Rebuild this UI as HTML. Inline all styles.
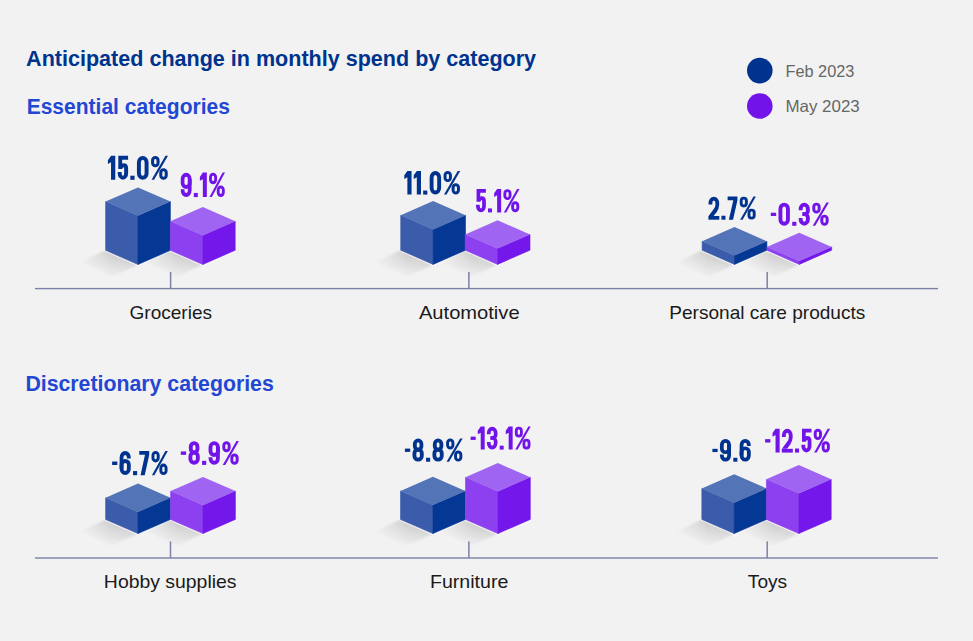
<!DOCTYPE html>
<html><head><meta charset="utf-8"><title>Anticipated change in monthly spend by category</title>
<style>
html,body{margin:0;padding:0;background:#f2f2f2;}
svg{display:block;font-family:"Liberation Sans",sans-serif;}
</style></head>
<body>
<svg width="973" height="641" viewBox="0 0 973 641">
<defs>
<linearGradient id="sh" gradientUnits="objectBoundingBox" x1="0.62" y1="0.2" x2="0.38" y2="0.8">
<stop offset="0" stop-color="#000" stop-opacity="0.14"/>
<stop offset="1" stop-color="#000" stop-opacity="0.03"/>
</linearGradient>
<linearGradient id="shm" gradientUnits="objectBoundingBox" x1="0" y1="0" x2="1" y2="0">
<stop offset="0" stop-color="#fff" stop-opacity="0.15"/>
<stop offset="0.55" stop-color="#fff" stop-opacity="1"/>
</linearGradient>
<mask id="mk" maskContentUnits="objectBoundingBox"><rect x="0" y="0" width="1" height="1" fill="url(#shm)"/></mask>
<filter id="bl" x="-30%" y="-30%" width="160%" height="160%"><feGaussianBlur stdDeviation="1.0"/></filter>
</defs>
<rect width="973" height="641" fill="#f2f2f2"/>
<rect x="35" y="287.90" width="903" height="1.4" fill="#7c81a5"/>
<rect x="169.85" y="272.10" width="1.5" height="16.50" fill="#7c81a5"/>
<rect x="468.15" y="272.10" width="1.5" height="16.50" fill="#7c81a5"/>
<rect x="766.45" y="272.10" width="1.5" height="16.50" fill="#7c81a5"/>
<rect x="35" y="557.30" width="903" height="1.4" fill="#7c81a5"/>
<rect x="169.75" y="541.50" width="1.5" height="16.50" fill="#7c81a5"/>
<rect x="468.15" y="541.50" width="1.5" height="16.50" fill="#7c81a5"/>
<rect x="766.45" y="541.50" width="1.5" height="16.50" fill="#7c81a5"/>
<polygon points="105.60,250.30 138.00,264.50 112.50,276.50 80.10,262.30" fill="url(#sh)" mask="url(#mk)" filter="url(#bl)"/>
<polyline points="105.60,251.10 138.00,265.40 170.40,251.10" fill="none" stroke="#fff" stroke-width="1.2" stroke-opacity="0.7"/>
<polygon points="170.40,250.30 202.80,264.50 177.30,276.50 144.90,262.30" fill="url(#sh)" mask="url(#mk)" filter="url(#bl)"/>
<polyline points="170.40,251.10 202.80,265.40 235.20,251.10" fill="none" stroke="#fff" stroke-width="1.2" stroke-opacity="0.7"/>
<polygon points="400.70,250.20 433.10,264.40 407.60,276.40 375.20,262.20" fill="url(#sh)" mask="url(#mk)" filter="url(#bl)"/>
<polyline points="400.70,251.00 433.10,265.30 465.50,251.00" fill="none" stroke="#fff" stroke-width="1.2" stroke-opacity="0.7"/>
<polygon points="465.20,250.20 497.60,264.40 472.10,276.40 439.70,262.20" fill="url(#sh)" mask="url(#mk)" filter="url(#bl)"/>
<polyline points="465.20,251.00 497.60,265.30 530.00,251.00" fill="none" stroke="#fff" stroke-width="1.2" stroke-opacity="0.7"/>
<polygon points="702.10,250.20 734.50,264.40 709.00,276.40 676.60,262.20" fill="url(#sh)" mask="url(#mk)" filter="url(#bl)"/>
<polyline points="702.10,251.00 734.50,265.30 766.90,251.00" fill="none" stroke="#fff" stroke-width="1.2" stroke-opacity="0.7"/>
<polygon points="766.90,250.20 799.30,264.40 773.80,276.40 741.40,262.20" fill="url(#sh)" mask="url(#mk)" filter="url(#bl)"/>
<polyline points="766.90,251.00 799.30,265.30 831.70,251.00" fill="none" stroke="#fff" stroke-width="1.2" stroke-opacity="0.7"/>
<polygon points="105.60,519.40 138.00,533.60 112.50,545.60 80.10,531.40" fill="url(#sh)" mask="url(#mk)" filter="url(#bl)"/>
<polyline points="105.60,520.20 138.00,534.50 170.40,520.20" fill="none" stroke="#fff" stroke-width="1.2" stroke-opacity="0.7"/>
<polygon points="170.60,519.40 203.00,533.60 177.50,545.60 145.10,531.40" fill="url(#sh)" mask="url(#mk)" filter="url(#bl)"/>
<polyline points="170.60,520.20 203.00,534.50 235.40,520.20" fill="none" stroke="#fff" stroke-width="1.2" stroke-opacity="0.7"/>
<polygon points="400.50,519.40 432.90,533.60 407.40,545.60 375.00,531.40" fill="url(#sh)" mask="url(#mk)" filter="url(#bl)"/>
<polyline points="400.50,520.20 432.90,534.50 465.30,520.20" fill="none" stroke="#fff" stroke-width="1.2" stroke-opacity="0.7"/>
<polygon points="465.50,519.40 497.90,533.60 472.40,545.60 440.00,531.40" fill="url(#sh)" mask="url(#mk)" filter="url(#bl)"/>
<polyline points="465.50,520.20 497.90,534.50 530.30,520.20" fill="none" stroke="#fff" stroke-width="1.2" stroke-opacity="0.7"/>
<polygon points="701.80,519.40 734.20,533.60 708.70,545.60 676.30,531.40" fill="url(#sh)" mask="url(#mk)" filter="url(#bl)"/>
<polyline points="701.80,520.20 734.20,534.50 766.60,520.20" fill="none" stroke="#fff" stroke-width="1.2" stroke-opacity="0.7"/>
<polygon points="766.40,519.40 798.80,533.60 773.30,545.60 740.90,531.40" fill="url(#sh)" mask="url(#mk)" filter="url(#bl)"/>
<polyline points="766.40,520.20 798.80,534.50 831.20,520.20" fill="none" stroke="#fff" stroke-width="1.2" stroke-opacity="0.7"/>
<polygon points="105.60,201.60 138.00,215.80 138.00,264.50 105.60,250.30" fill="#3a5caa" stroke="#3a5caa" stroke-width="0.6" stroke-linejoin="round"/>
<polygon points="138.00,215.80 170.40,201.60 170.40,250.30 138.00,264.50" fill="#053794" stroke="#053794" stroke-width="0.6" stroke-linejoin="round"/>
<polygon points="138.00,187.40 170.40,201.60 138.00,215.80 105.60,201.60" fill="#5474b8"/>
<polygon points="170.40,221.20 202.80,235.40 202.80,264.50 170.40,250.30" fill="#8d40ef" stroke="#8d40ef" stroke-width="0.6" stroke-linejoin="round"/>
<polygon points="202.80,235.40 235.20,221.20 235.20,250.30 202.80,264.50" fill="#7417ea" stroke="#7417ea" stroke-width="0.6" stroke-linejoin="round"/>
<polygon points="202.80,207.00 235.20,221.20 202.80,235.40 170.40,221.20" fill="#a064f2"/>
<polygon points="400.70,215.20 433.10,229.40 433.10,264.40 400.70,250.20" fill="#3a5caa" stroke="#3a5caa" stroke-width="0.6" stroke-linejoin="round"/>
<polygon points="433.10,229.40 465.50,215.20 465.50,250.20 433.10,264.40" fill="#053794" stroke="#053794" stroke-width="0.6" stroke-linejoin="round"/>
<polygon points="433.10,201.00 465.50,215.20 433.10,229.40 400.70,215.20" fill="#5474b8"/>
<polygon points="465.20,234.40 497.60,248.60 497.60,264.40 465.20,250.20" fill="#8d40ef" stroke="#8d40ef" stroke-width="0.6" stroke-linejoin="round"/>
<polygon points="497.60,248.60 530.00,234.40 530.00,250.20 497.60,264.40" fill="#7417ea" stroke="#7417ea" stroke-width="0.6" stroke-linejoin="round"/>
<polygon points="497.60,220.20 530.00,234.40 497.60,248.60 465.20,234.40" fill="#a064f2"/>
<polygon points="702.10,241.30 734.50,255.50 734.50,264.40 702.10,250.20" fill="#3a5caa" stroke="#3a5caa" stroke-width="0.6" stroke-linejoin="round"/>
<polygon points="734.50,255.50 766.90,241.30 766.90,250.20 734.50,264.40" fill="#053794" stroke="#053794" stroke-width="0.6" stroke-linejoin="round"/>
<polygon points="734.50,227.10 766.90,241.30 734.50,255.50 702.10,241.30" fill="#5474b8"/>
<polygon points="766.90,246.90 799.30,261.10 799.30,264.40 766.90,250.20" fill="#8d40ef" stroke="#8d40ef" stroke-width="0.6" stroke-linejoin="round"/>
<polygon points="799.30,261.10 831.70,246.90 831.70,250.20 799.30,264.40" fill="#7417ea" stroke="#7417ea" stroke-width="0.6" stroke-linejoin="round"/>
<polygon points="799.30,232.70 831.70,246.90 799.30,261.10 766.90,246.90" fill="#a064f2"/>
<polygon points="105.60,497.80 138.00,512.00 138.00,533.60 105.60,519.40" fill="#3a5caa" stroke="#3a5caa" stroke-width="0.6" stroke-linejoin="round"/>
<polygon points="138.00,512.00 170.40,497.80 170.40,519.40 138.00,533.60" fill="#053794" stroke="#053794" stroke-width="0.6" stroke-linejoin="round"/>
<polygon points="138.00,483.60 170.40,497.80 138.00,512.00 105.60,497.80" fill="#5474b8"/>
<polygon points="170.60,491.10 203.00,505.30 203.00,533.60 170.60,519.40" fill="#8d40ef" stroke="#8d40ef" stroke-width="0.6" stroke-linejoin="round"/>
<polygon points="203.00,505.30 235.40,491.10 235.40,519.40 203.00,533.60" fill="#7417ea" stroke="#7417ea" stroke-width="0.6" stroke-linejoin="round"/>
<polygon points="203.00,476.90 235.40,491.10 203.00,505.30 170.60,491.10" fill="#a064f2"/>
<polygon points="400.50,490.90 432.90,505.10 432.90,533.60 400.50,519.40" fill="#3a5caa" stroke="#3a5caa" stroke-width="0.6" stroke-linejoin="round"/>
<polygon points="432.90,505.10 465.30,490.90 465.30,519.40 432.90,533.60" fill="#053794" stroke="#053794" stroke-width="0.6" stroke-linejoin="round"/>
<polygon points="432.90,476.70 465.30,490.90 432.90,505.10 400.50,490.90" fill="#5474b8"/>
<polygon points="465.50,477.30 497.90,491.50 497.90,533.60 465.50,519.40" fill="#8d40ef" stroke="#8d40ef" stroke-width="0.6" stroke-linejoin="round"/>
<polygon points="497.90,491.50 530.30,477.30 530.30,519.40 497.90,533.60" fill="#7417ea" stroke="#7417ea" stroke-width="0.6" stroke-linejoin="round"/>
<polygon points="497.90,463.10 530.30,477.30 497.90,491.50 465.50,477.30" fill="#a064f2"/>
<polygon points="701.80,488.50 734.20,502.70 734.20,533.60 701.80,519.40" fill="#3a5caa" stroke="#3a5caa" stroke-width="0.6" stroke-linejoin="round"/>
<polygon points="734.20,502.70 766.60,488.50 766.60,519.40 734.20,533.60" fill="#053794" stroke="#053794" stroke-width="0.6" stroke-linejoin="round"/>
<polygon points="734.20,474.30 766.60,488.50 734.20,502.70 701.80,488.50" fill="#5474b8"/>
<polygon points="766.40,479.30 798.80,493.50 798.80,533.60 766.40,519.40" fill="#8d40ef" stroke="#8d40ef" stroke-width="0.6" stroke-linejoin="round"/>
<polygon points="798.80,493.50 831.20,479.30 831.20,519.40 798.80,533.60" fill="#7417ea" stroke="#7417ea" stroke-width="0.6" stroke-linejoin="round"/>
<polygon points="798.80,465.10 831.20,479.30 798.80,493.50 766.40,479.30" fill="#a064f2"/>
<circle cx="759.8" cy="70.6" r="12.8" fill="#00338d"/>
<circle cx="759.8" cy="106.0" r="12.8" fill="#7213ea"/>
<g transform="translate(107.90 179.80) scale(1.0101 1.0000)"><path transform="translate(0.00 0)" d="M 3.1 -24 L 7.3 -24 L 7.3 0 L 3.1 0 L 3.1 -17.6 L 0 -15.9 L 0 -19.6 Z" fill="#00338d"/><path transform="translate(9.50 0)" d="M 0.8 -24 L 10.5 -24 L 10.5 -20.1 L 4.6 -20.1 L 4.6 -10.8 L 0.8 -10.8 Z" fill="#00338d"/><path transform="translate(9.50 0)" d="M 2.7 -11.6 C 3.6 -13.7 5 -14.6 6.4 -14.6 C 8.6 -14.6 8.55 -12.6 8.55 -10.6 L 8.55 -6.6 A 3.2 4.5 0 0 1 2.15 -6.6 L 2.15 -7.8" fill="none" stroke="#00338d" stroke-width="3.90"/><path transform="translate(22.20 0)" d="M 0 -4.1 L 4.2 -4.1 L 4.2 0 L 0 0 Z" fill="#00338d"/><path transform="translate(28.60 0)" d="M 2.1 -17.4 A 3.8 4.5 0 0 1 9.7 -17.4 L 9.7 -6.6 A 3.8 4.5 0 0 1 2.1 -6.6 Z" fill="none" stroke="#00338d" stroke-width="3.90"/><path transform="translate(42.60 0)" d="M 1.65 -19.6 A 2.7 2.75 0 0 1 7.05 -19.6 L 7.05 -16.9 A 2.7 2.75 0 0 1 1.65 -16.9 Z" fill="none" stroke="#00338d" stroke-width="3.00"/><path transform="translate(42.60 0)" d="M 9.75 -7.2 A 2.7 2.75 0 0 1 15.15 -7.2 L 15.15 -4.4 A 2.7 2.75 0 0 1 9.75 -4.4 Z" fill="none" stroke="#00338d" stroke-width="3.00"/><path transform="translate(42.60 0)" d="M 14.4 -24 L 16.9 -24 L 3.1 0 L 0.6 0 Z" fill="#00338d"/></g>
<g transform="translate(180.60 197.10) scale(0.9506 1.0208)"><path transform="translate(0.00 0)" d="M 2.1 -17.6 A 3.75 4.3 0 0 1 9.6 -17.6 L 9.6 -13.6 A 3.75 3.7 0 0 1 2.1 -13.6 Z" fill="none" stroke="#7213ea" stroke-width="3.90"/><path transform="translate(0.00 0)" d="M 9.6 -17.6 L 9.6 -6.6 A 3.75 4.5 0 0 1 2.1 -6.6 L 2.1 -7.6" fill="none" stroke="#7213ea" stroke-width="3.90"/><path transform="translate(13.90 0)" d="M 0 -4.1 L 4.2 -4.1 L 4.2 0 L 0 0 Z" fill="#7213ea"/><path transform="translate(20.30 0)" d="M 3.1 -24 L 7.3 -24 L 7.3 0 L 3.1 0 L 3.1 -17.6 L 0 -15.9 L 0 -19.6 Z" fill="#7213ea"/><path transform="translate(29.80 0)" d="M 1.65 -19.6 A 2.7 2.75 0 0 1 7.05 -19.6 L 7.05 -16.9 A 2.7 2.75 0 0 1 1.65 -16.9 Z" fill="none" stroke="#7213ea" stroke-width="3.00"/><path transform="translate(29.80 0)" d="M 9.75 -7.2 A 2.7 2.75 0 0 1 15.15 -7.2 L 15.15 -4.4 A 2.7 2.75 0 0 1 9.75 -4.4 Z" fill="none" stroke="#7213ea" stroke-width="3.00"/><path transform="translate(29.80 0)" d="M 14.4 -24 L 16.9 -24 L 3.1 0 L 0.6 0 Z" fill="#7213ea"/></g>
<g transform="translate(404.30 194.60) scale(0.9929 0.9875)"><path transform="translate(0.00 0)" d="M 3.1 -24 L 7.3 -24 L 7.3 0 L 3.1 0 L 3.1 -17.6 L 0 -15.9 L 0 -19.6 Z" fill="#00338d"/><path transform="translate(9.50 0)" d="M 3.1 -24 L 7.3 -24 L 7.3 0 L 3.1 0 L 3.1 -17.6 L 0 -15.9 L 0 -19.6 Z" fill="#00338d"/><path transform="translate(19.00 0)" d="M 0 -4.1 L 4.2 -4.1 L 4.2 0 L 0 0 Z" fill="#00338d"/><path transform="translate(25.40 0)" d="M 2.1 -17.4 A 3.8 4.5 0 0 1 9.7 -17.4 L 9.7 -6.6 A 3.8 4.5 0 0 1 2.1 -6.6 Z" fill="none" stroke="#00338d" stroke-width="3.90"/><path transform="translate(39.40 0)" d="M 1.65 -19.6 A 2.7 2.75 0 0 1 7.05 -19.6 L 7.05 -16.9 A 2.7 2.75 0 0 1 1.65 -16.9 Z" fill="none" stroke="#00338d" stroke-width="3.00"/><path transform="translate(39.40 0)" d="M 9.75 -7.2 A 2.7 2.75 0 0 1 15.15 -7.2 L 15.15 -4.4 A 2.7 2.75 0 0 1 9.75 -4.4 Z" fill="none" stroke="#00338d" stroke-width="3.00"/><path transform="translate(39.40 0)" d="M 14.4 -24 L 16.9 -24 L 3.1 0 L 0.6 0 Z" fill="#00338d"/></g>
<g transform="translate(475.80 212.40) scale(0.9604 0.9750)"><path transform="translate(0.00 0)" d="M 0.8 -24 L 10.5 -24 L 10.5 -20.1 L 4.6 -20.1 L 4.6 -10.8 L 0.8 -10.8 Z" fill="#7213ea"/><path transform="translate(0.00 0)" d="M 2.7 -11.6 C 3.6 -13.7 5 -14.6 6.4 -14.6 C 8.6 -14.6 8.55 -12.6 8.55 -10.6 L 8.55 -6.6 A 3.2 4.5 0 0 1 2.15 -6.6 L 2.15 -7.8" fill="none" stroke="#7213ea" stroke-width="3.90"/><path transform="translate(12.70 0)" d="M 0 -4.1 L 4.2 -4.1 L 4.2 0 L 0 0 Z" fill="#7213ea"/><path transform="translate(19.10 0)" d="M 3.1 -24 L 7.3 -24 L 7.3 0 L 3.1 0 L 3.1 -17.6 L 0 -15.9 L 0 -19.6 Z" fill="#7213ea"/><path transform="translate(28.60 0)" d="M 1.65 -19.6 A 2.7 2.75 0 0 1 7.05 -19.6 L 7.05 -16.9 A 2.7 2.75 0 0 1 1.65 -16.9 Z" fill="none" stroke="#7213ea" stroke-width="3.00"/><path transform="translate(28.60 0)" d="M 9.75 -7.2 A 2.7 2.75 0 0 1 15.15 -7.2 L 15.15 -4.4 A 2.7 2.75 0 0 1 9.75 -4.4 Z" fill="none" stroke="#7213ea" stroke-width="3.00"/><path transform="translate(28.60 0)" d="M 14.4 -24 L 16.9 -24 L 3.1 0 L 0.6 0 Z" fill="#7213ea"/></g>
<g transform="translate(708.40 219.70) scale(0.9654 0.9667)"><path transform="translate(0.00 0)" d="M 2.1 -15.6 L 2.1 -17.2 A 3.55 4.7 0 0 1 9.2 -17.2 L 9.2 -15.3 C 9.2 -12.8 8.4 -11.2 6.9 -9.3" fill="none" stroke="#00338d" stroke-width="3.90"/><path transform="translate(0.00 0)" d="M 0.15 -3.8 L 5.82 -11.36 L 9.18 -8.84 L 5.4 -3.8 Z" fill="#00338d"/><path transform="translate(0.00 0)" d="M 0 -3.8 L 11.3 -3.8 L 11.3 0 L 0 0 Z" fill="#00338d"/><path transform="translate(13.50 0)" d="M 0 -4.1 L 4.2 -4.1 L 4.2 0 L 0 0 Z" fill="#00338d"/><path transform="translate(19.90 0)" d="M 0 -24 L 10.2 -24 L 10.2 -20.0 L 5.6 0 L 1.3 0 L 5.9 -20.2 L 0 -20.2 Z" fill="#00338d"/><path transform="translate(32.30 0)" d="M 1.65 -19.6 A 2.7 2.75 0 0 1 7.05 -19.6 L 7.05 -16.9 A 2.7 2.75 0 0 1 1.65 -16.9 Z" fill="none" stroke="#00338d" stroke-width="3.00"/><path transform="translate(32.30 0)" d="M 9.75 -7.2 A 2.7 2.75 0 0 1 15.15 -7.2 L 15.15 -4.4 A 2.7 2.75 0 0 1 9.75 -4.4 Z" fill="none" stroke="#00338d" stroke-width="3.00"/><path transform="translate(32.30 0)" d="M 14.4 -24 L 16.9 -24 L 3.1 0 L 0.6 0 Z" fill="#00338d"/></g>
<g transform="translate(770.80 225.80) scale(0.9915 0.9708)"><path transform="translate(0.00 0)" d="M 0 -13.5 L 5.4 -13.5 L 5.4 -10.1 L 0 -10.1 Z" fill="#7213ea"/><path transform="translate(7.60 0)" d="M 2.1 -17.4 A 3.8 4.5 0 0 1 9.7 -17.4 L 9.7 -6.6 A 3.8 4.5 0 0 1 2.1 -6.6 Z" fill="none" stroke="#7213ea" stroke-width="3.90"/><path transform="translate(21.60 0)" d="M 0 -4.1 L 4.2 -4.1 L 4.2 0 L 0 0 Z" fill="#7213ea"/><path transform="translate(28.00 0)" d="M 2.1 -16.0 L 2.1 -17.2 A 3.65 4.7 0 0 1 9.4 -17.2 L 9.4 -15.6 A 3.65 3.5 0 0 1 5.75 -12.1 L 4.0 -12.1" fill="none" stroke="#7213ea" stroke-width="3.90"/><path transform="translate(28.00 0)" d="M 4.0 -12.1 L 5.75 -12.1 A 3.65 3.5 0 0 1 9.4 -8.6 L 9.4 -6.8 A 3.65 4.7 0 0 1 2.1 -6.8 L 2.1 -8.0" fill="none" stroke="#7213ea" stroke-width="3.90"/><path transform="translate(41.70 0)" d="M 1.65 -19.6 A 2.7 2.75 0 0 1 7.05 -19.6 L 7.05 -16.9 A 2.7 2.75 0 0 1 1.65 -16.9 Z" fill="none" stroke="#7213ea" stroke-width="3.00"/><path transform="translate(41.70 0)" d="M 9.75 -7.2 A 2.7 2.75 0 0 1 15.15 -7.2 L 15.15 -4.4 A 2.7 2.75 0 0 1 9.75 -4.4 Z" fill="none" stroke="#7213ea" stroke-width="3.00"/><path transform="translate(41.70 0)" d="M 14.4 -24 L 16.9 -24 L 3.1 0 L 0.6 0 Z" fill="#7213ea"/></g>
<g transform="translate(112.10 475.20) scale(0.9737 1.0125)"><path transform="translate(0.00 0)" d="M 0 -13.5 L 5.4 -13.5 L 5.4 -10.1 L 0 -10.1 Z" fill="#00338d"/><path transform="translate(7.60 0) rotate(180 5.850 -12)" d="M 2.1 -17.6 A 3.75 4.3 0 0 1 9.6 -17.6 L 9.6 -13.6 A 3.75 3.7 0 0 1 2.1 -13.6 Z" fill="none" stroke="#00338d" stroke-width="3.90"/><path transform="translate(7.60 0) rotate(180 5.850 -12)" d="M 9.6 -17.6 L 9.6 -6.6 A 3.75 4.5 0 0 1 2.1 -6.6 L 2.1 -7.6" fill="none" stroke="#00338d" stroke-width="3.90"/><path transform="translate(21.50 0)" d="M 0 -4.1 L 4.2 -4.1 L 4.2 0 L 0 0 Z" fill="#00338d"/><path transform="translate(27.90 0)" d="M 0 -24 L 10.2 -24 L 10.2 -20.0 L 5.6 0 L 1.3 0 L 5.9 -20.2 L 0 -20.2 Z" fill="#00338d"/><path transform="translate(40.30 0)" d="M 1.65 -19.6 A 2.7 2.75 0 0 1 7.05 -19.6 L 7.05 -16.9 A 2.7 2.75 0 0 1 1.65 -16.9 Z" fill="none" stroke="#00338d" stroke-width="3.00"/><path transform="translate(40.30 0)" d="M 9.75 -7.2 A 2.7 2.75 0 0 1 15.15 -7.2 L 15.15 -4.4 A 2.7 2.75 0 0 1 9.75 -4.4 Z" fill="none" stroke="#00338d" stroke-width="3.00"/><path transform="translate(40.30 0)" d="M 14.4 -24 L 16.9 -24 L 3.1 0 L 0.6 0 Z" fill="#00338d"/></g>
<g transform="translate(180.80 464.90) scale(0.9898 0.9958)"><path transform="translate(0.00 0)" d="M 0 -13.5 L 5.4 -13.5 L 5.4 -10.1 L 0 -10.1 Z" fill="#7213ea"/><path transform="translate(7.60 0)" d="M 2.5 -18.3 A 3.35 3.6 0 0 1 9.2 -18.3 L 9.2 -15.8 A 3.35 3.35 0 0 1 2.5 -15.8 Z" fill="none" stroke="#7213ea" stroke-width="3.90"/><path transform="translate(7.60 0)" d="M 2.1 -8.8 A 3.75 3.65 0 0 1 9.6 -8.8 L 9.6 -5.85 A 3.75 3.75 0 0 1 2.1 -5.85 Z" fill="none" stroke="#7213ea" stroke-width="3.90"/><path transform="translate(21.50 0)" d="M 0 -4.1 L 4.2 -4.1 L 4.2 0 L 0 0 Z" fill="#7213ea"/><path transform="translate(27.90 0)" d="M 2.1 -17.6 A 3.75 4.3 0 0 1 9.6 -17.6 L 9.6 -13.6 A 3.75 3.7 0 0 1 2.1 -13.6 Z" fill="none" stroke="#7213ea" stroke-width="3.90"/><path transform="translate(27.90 0)" d="M 9.6 -17.6 L 9.6 -6.6 A 3.75 4.5 0 0 1 2.1 -6.6 L 2.1 -7.6" fill="none" stroke="#7213ea" stroke-width="3.90"/><path transform="translate(41.80 0)" d="M 1.65 -19.6 A 2.7 2.75 0 0 1 7.05 -19.6 L 7.05 -16.9 A 2.7 2.75 0 0 1 1.65 -16.9 Z" fill="none" stroke="#7213ea" stroke-width="3.00"/><path transform="translate(41.80 0)" d="M 9.75 -7.2 A 2.7 2.75 0 0 1 15.15 -7.2 L 15.15 -4.4 A 2.7 2.75 0 0 1 9.75 -4.4 Z" fill="none" stroke="#7213ea" stroke-width="3.00"/><path transform="translate(41.80 0)" d="M 14.4 -24 L 16.9 -24 L 3.1 0 L 0.6 0 Z" fill="#7213ea"/></g>
<g transform="translate(404.90 461.70) scale(0.9829 0.9708)"><path transform="translate(0.00 0)" d="M 0 -13.5 L 5.4 -13.5 L 5.4 -10.1 L 0 -10.1 Z" fill="#00338d"/><path transform="translate(7.60 0)" d="M 2.5 -18.3 A 3.35 3.6 0 0 1 9.2 -18.3 L 9.2 -15.8 A 3.35 3.35 0 0 1 2.5 -15.8 Z" fill="none" stroke="#00338d" stroke-width="3.90"/><path transform="translate(7.60 0)" d="M 2.1 -8.8 A 3.75 3.65 0 0 1 9.6 -8.8 L 9.6 -5.85 A 3.75 3.75 0 0 1 2.1 -5.85 Z" fill="none" stroke="#00338d" stroke-width="3.90"/><path transform="translate(21.50 0)" d="M 0 -4.1 L 4.2 -4.1 L 4.2 0 L 0 0 Z" fill="#00338d"/><path transform="translate(27.90 0)" d="M 2.5 -18.3 A 3.35 3.6 0 0 1 9.2 -18.3 L 9.2 -15.8 A 3.35 3.35 0 0 1 2.5 -15.8 Z" fill="none" stroke="#00338d" stroke-width="3.90"/><path transform="translate(27.90 0)" d="M 2.1 -8.8 A 3.75 3.65 0 0 1 9.6 -8.8 L 9.6 -5.85 A 3.75 3.75 0 0 1 2.1 -5.85 Z" fill="none" stroke="#00338d" stroke-width="3.90"/><path transform="translate(41.80 0)" d="M 1.65 -19.6 A 2.7 2.75 0 0 1 7.05 -19.6 L 7.05 -16.9 A 2.7 2.75 0 0 1 1.65 -16.9 Z" fill="none" stroke="#00338d" stroke-width="3.00"/><path transform="translate(41.80 0)" d="M 9.75 -7.2 A 2.7 2.75 0 0 1 15.15 -7.2 L 15.15 -4.4 A 2.7 2.75 0 0 1 9.75 -4.4 Z" fill="none" stroke="#00338d" stroke-width="3.00"/><path transform="translate(41.80 0)" d="M 14.4 -24 L 16.9 -24 L 3.1 0 L 0.6 0 Z" fill="#00338d"/></g>
<g transform="translate(470.60 449.60) scale(0.9449 0.9583)"><path transform="translate(0.00 0)" d="M 0 -13.5 L 5.4 -13.5 L 5.4 -10.1 L 0 -10.1 Z" fill="#7213ea"/><path transform="translate(7.60 0)" d="M 3.1 -24 L 7.3 -24 L 7.3 0 L 3.1 0 L 3.1 -17.6 L 0 -15.9 L 0 -19.6 Z" fill="#7213ea"/><path transform="translate(17.10 0)" d="M 2.1 -16.0 L 2.1 -17.2 A 3.65 4.7 0 0 1 9.4 -17.2 L 9.4 -15.6 A 3.65 3.5 0 0 1 5.75 -12.1 L 4.0 -12.1" fill="none" stroke="#7213ea" stroke-width="3.90"/><path transform="translate(17.10 0)" d="M 4.0 -12.1 L 5.75 -12.1 A 3.65 3.5 0 0 1 9.4 -8.6 L 9.4 -6.8 A 3.65 4.7 0 0 1 2.1 -6.8 L 2.1 -8.0" fill="none" stroke="#7213ea" stroke-width="3.90"/><path transform="translate(30.80 0)" d="M 0 -4.1 L 4.2 -4.1 L 4.2 0 L 0 0 Z" fill="#7213ea"/><path transform="translate(37.20 0)" d="M 3.1 -24 L 7.3 -24 L 7.3 0 L 3.1 0 L 3.1 -17.6 L 0 -15.9 L 0 -19.6 Z" fill="#7213ea"/><path transform="translate(46.70 0)" d="M 1.65 -19.6 A 2.7 2.75 0 0 1 7.05 -19.6 L 7.05 -16.9 A 2.7 2.75 0 0 1 1.65 -16.9 Z" fill="none" stroke="#7213ea" stroke-width="3.00"/><path transform="translate(46.70 0)" d="M 9.75 -7.2 A 2.7 2.75 0 0 1 15.15 -7.2 L 15.15 -4.4 A 2.7 2.75 0 0 1 9.75 -4.4 Z" fill="none" stroke="#7213ea" stroke-width="3.00"/><path transform="translate(46.70 0)" d="M 14.4 -24 L 16.9 -24 L 3.1 0 L 0.6 0 Z" fill="#7213ea"/></g>
<g transform="translate(712.40 461.70) scale(0.9722 0.9542)"><path transform="translate(0.00 0)" d="M 0 -13.5 L 5.4 -13.5 L 5.4 -10.1 L 0 -10.1 Z" fill="#00338d"/><path transform="translate(7.60 0)" d="M 2.1 -17.6 A 3.75 4.3 0 0 1 9.6 -17.6 L 9.6 -13.6 A 3.75 3.7 0 0 1 2.1 -13.6 Z" fill="none" stroke="#00338d" stroke-width="3.90"/><path transform="translate(7.60 0)" d="M 9.6 -17.6 L 9.6 -6.6 A 3.75 4.5 0 0 1 2.1 -6.6 L 2.1 -7.6" fill="none" stroke="#00338d" stroke-width="3.90"/><path transform="translate(21.50 0)" d="M 0 -4.1 L 4.2 -4.1 L 4.2 0 L 0 0 Z" fill="#00338d"/><path transform="translate(27.90 0) rotate(180 5.850 -12)" d="M 2.1 -17.6 A 3.75 4.3 0 0 1 9.6 -17.6 L 9.6 -13.6 A 3.75 3.7 0 0 1 2.1 -13.6 Z" fill="none" stroke="#00338d" stroke-width="3.90"/><path transform="translate(27.90 0) rotate(180 5.850 -12)" d="M 9.6 -17.6 L 9.6 -6.6 A 3.75 4.5 0 0 1 2.1 -6.6 L 2.1 -7.6" fill="none" stroke="#00338d" stroke-width="3.90"/></g>
<g transform="translate(765.10 452.60) scale(0.9759 0.9958)"><path transform="translate(0.00 0)" d="M 0 -13.5 L 5.4 -13.5 L 5.4 -10.1 L 0 -10.1 Z" fill="#7213ea"/><path transform="translate(7.60 0)" d="M 3.1 -24 L 7.3 -24 L 7.3 0 L 3.1 0 L 3.1 -17.6 L 0 -15.9 L 0 -19.6 Z" fill="#7213ea"/><path transform="translate(17.10 0)" d="M 2.1 -15.6 L 2.1 -17.2 A 3.55 4.7 0 0 1 9.2 -17.2 L 9.2 -15.3 C 9.2 -12.8 8.4 -11.2 6.9 -9.3" fill="none" stroke="#7213ea" stroke-width="3.90"/><path transform="translate(17.10 0)" d="M 0.15 -3.8 L 5.82 -11.36 L 9.18 -8.84 L 5.4 -3.8 Z" fill="#7213ea"/><path transform="translate(17.10 0)" d="M 0 -3.8 L 11.3 -3.8 L 11.3 0 L 0 0 Z" fill="#7213ea"/><path transform="translate(30.60 0)" d="M 0 -4.1 L 4.2 -4.1 L 4.2 0 L 0 0 Z" fill="#7213ea"/><path transform="translate(37.00 0)" d="M 0.8 -24 L 10.5 -24 L 10.5 -20.1 L 4.6 -20.1 L 4.6 -10.8 L 0.8 -10.8 Z" fill="#7213ea"/><path transform="translate(37.00 0)" d="M 2.7 -11.6 C 3.6 -13.7 5 -14.6 6.4 -14.6 C 8.6 -14.6 8.55 -12.6 8.55 -10.6 L 8.55 -6.6 A 3.2 4.5 0 0 1 2.15 -6.6 L 2.15 -7.8" fill="none" stroke="#7213ea" stroke-width="3.90"/><path transform="translate(49.70 0)" d="M 1.65 -19.6 A 2.7 2.75 0 0 1 7.05 -19.6 L 7.05 -16.9 A 2.7 2.75 0 0 1 1.65 -16.9 Z" fill="none" stroke="#7213ea" stroke-width="3.00"/><path transform="translate(49.70 0)" d="M 9.75 -7.2 A 2.7 2.75 0 0 1 15.15 -7.2 L 15.15 -4.4 A 2.7 2.75 0 0 1 9.75 -4.4 Z" fill="none" stroke="#7213ea" stroke-width="3.00"/><path transform="translate(49.70 0)" d="M 14.4 -24 L 16.9 -24 L 3.1 0 L 0.6 0 Z" fill="#7213ea"/></g>
<text x="26.10" y="65.80" font-size="22.00" font-weight="700" fill="#00338d" textLength="510.00" lengthAdjust="spacingAndGlyphs">Anticipated change in monthly spend by category</text>
<text x="26.64" y="113.90" font-size="21.50" font-weight="700" fill="#2247d2" textLength="203.26" lengthAdjust="spacingAndGlyphs">Essential categories</text>
<text x="25.39" y="390.50" font-size="21.50" font-weight="700" fill="#2247d2" textLength="248.39" lengthAdjust="spacingAndGlyphs">Discretionary categories</text>
<text x="785.41" y="77.00" font-size="16.50" font-weight="400" fill="#666666" textLength="69.00" lengthAdjust="spacingAndGlyphs">Feb 2023</text>
<text x="785.44" y="112.20" font-size="16.50" font-weight="400" fill="#666666" textLength="74.33" lengthAdjust="spacingAndGlyphs">May 2023</text>
<text x="129.55" y="318.90" font-size="18.50" font-weight="400" fill="#1a1a1a" textLength="82.49" lengthAdjust="spacingAndGlyphs">Groceries</text>
<text x="418.94" y="318.80" font-size="18.50" font-weight="400" fill="#1a1a1a" textLength="100.66" lengthAdjust="spacingAndGlyphs">Automotive</text>
<text x="669.30" y="318.80" font-size="18.50" font-weight="400" fill="#1a1a1a" textLength="196.00" lengthAdjust="spacingAndGlyphs">Personal care products</text>
<text x="103.89" y="587.80" font-size="18.50" font-weight="400" fill="#1a1a1a" textLength="132.64" lengthAdjust="spacingAndGlyphs">Hobby supplies</text>
<text x="429.92" y="587.70" font-size="18.50" font-weight="400" fill="#1a1a1a" textLength="78.47" lengthAdjust="spacingAndGlyphs">Furniture</text>
<text x="747.89" y="587.70" font-size="18.50" font-weight="400" fill="#1a1a1a" textLength="39.29" lengthAdjust="spacingAndGlyphs">Toys</text>
</svg>
</body></html>
